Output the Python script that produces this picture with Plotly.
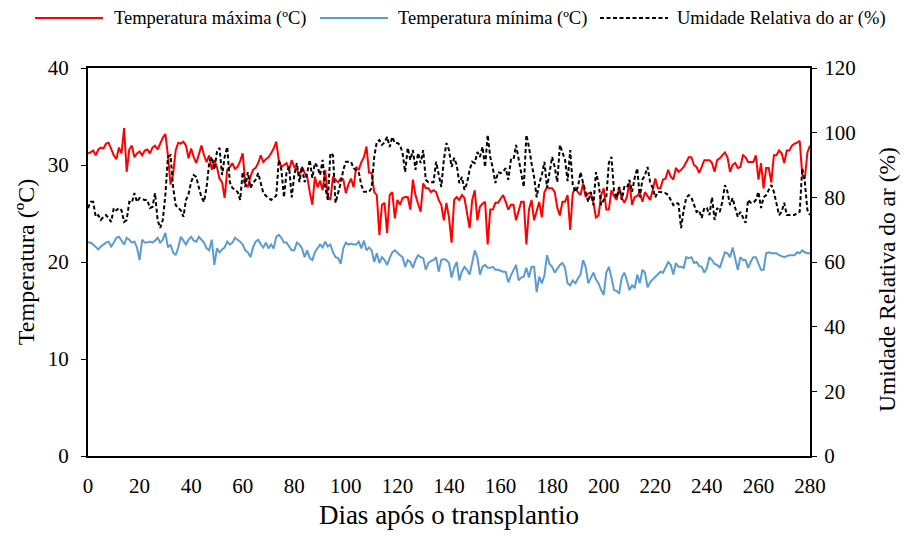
import plotly.graph_objects as go

days = list(range(0, 281))

tmax = [
    31.2, 31.3, 31.5, 31.0, 31.6, 31.8, 31.7, 32.2, 32.3, 31.6,
    31.0, 30.6, 31.8, 31.2, 33.8, 29.3, 31.6, 32.0, 30.8, 31.2,
    31.4, 31.0, 31.5, 31.6, 31.2, 31.8, 32.0, 31.6, 32.3, 32.8,
    33.2, 31.0, 28.0, 29.0, 31.5, 32.3, 32.2, 32.4, 32.0, 30.7,
    31.7, 30.8, 30.2, 31.0, 32.0, 31.0, 30.3, 31.0, 29.5, 30.5,
    29.8, 28.6, 28.2, 26.6, 29.5, 29.8, 30.2, 29.6, 29.8, 30.4,
    31.2, 28.1, 27.7, 28.8, 29.5, 29.7, 30.2, 31.0, 30.3, 30.6,
    30.8, 31.2, 31.7, 32.4, 30.5, 29.8, 30.0, 30.2, 29.5, 30.5,
    29.8, 29.5, 29.0, 29.8, 29.2, 28.8, 27.2, 25.9, 28.8, 27.7,
    28.4, 27.4, 29.5, 26.7, 26.4, 28.8, 28.5, 28.2, 28.6, 28.5,
    27.1, 28.0, 28.6, 27.7, 29.8, 29.5, 30.3, 30.8, 31.9, 29.2,
    29.2, 27.2, 26.9, 22.8, 25.9, 26.1, 23.0, 26.9, 27.2, 24.5,
    26.4, 25.9, 26.6, 26.7, 26.7, 25.4, 28.5, 26.9, 26.0, 25.2,
    28.1, 27.6, 27.6, 27.2, 27.4, 27.2, 26.4, 25.9, 24.3, 26.1,
    24.6, 22.0, 26.4, 26.7, 26.4, 26.9, 26.6, 25.0, 23.5, 26.4,
    27.4, 24.3, 25.7, 26.0, 26.2, 21.8, 25.4, 25.4, 26.1, 26.1,
    26.5, 26.9, 26.2, 25.4, 25.9, 25.9, 24.3, 25.4, 26.2, 26.2,
    21.8, 25.4, 26.4, 24.3, 25.2, 26.2, 24.6, 27.2, 27.7, 27.6,
    27.6, 27.2, 25.6, 24.8, 26.2, 26.2, 26.9, 23.3, 27.1, 27.6,
    27.2, 26.9, 28.1, 26.7, 27.1, 27.1, 26.1, 24.6, 24.8, 26.9,
    27.6, 25.4, 25.4, 27.4, 26.8, 26.4, 27.7, 26.6, 26.1, 26.7,
    28.2, 25.9, 26.7, 26.8, 27.2, 26.2, 27.2, 26.8, 26.4, 27.4,
    28.6, 27.6, 27.6, 28.5, 28.6, 29.5, 28.8, 28.5, 29.7, 29.3,
    29.5, 29.8, 30.3, 30.8, 30.8, 30.0, 29.8, 29.2, 29.8, 30.5,
    30.5, 30.5, 30.2, 29.3, 30.5, 30.7, 31.0, 31.3, 30.8, 29.3,
    30.0, 30.2, 29.7, 29.8, 31.0, 30.8, 30.3, 30.3, 30.3, 31.0,
    28.5, 30.2, 27.6, 29.7, 29.7, 28.2, 31.0, 31.0, 31.5, 31.2,
    30.2, 31.5, 31.5, 32.0, 32.2, 32.3, 32.5, 29.0, 28.6, 31.3, 32.0,
]

tmin = [
    22.0, 22.0, 21.8, 21.5, 21.3, 21.6, 21.8, 22.0, 22.1, 21.6,
    22.0, 22.5, 22.6, 22.2, 21.8, 22.5, 22.3, 22.0, 22.1, 21.5,
    20.2, 22.3, 22.0, 22.0, 22.1, 22.0, 22.2, 22.5, 22.0, 22.3,
    23.0, 21.5, 21.8, 21.0, 20.7, 21.5, 22.6, 22.2, 21.8, 22.3,
    22.6, 22.2, 22.1, 22.6, 22.3, 22.0, 21.4, 21.2, 22.3, 19.7,
    21.4, 21.0, 21.3, 21.5, 22.1, 21.8, 22.0, 22.5, 22.3, 22.1,
    21.8, 21.2, 21.0, 20.5, 21.5, 22.1, 22.3, 21.8, 21.5, 22.0,
    21.4, 21.8, 21.4, 22.6, 22.8, 22.5, 22.0, 22.0, 21.6, 21.2,
    21.2, 22.0, 21.8, 21.4, 20.5, 21.2, 20.4, 20.2, 21.0, 21.4,
    21.8, 21.5, 22.1, 21.6, 21.8, 21.0, 20.5, 20.4, 19.8, 21.4,
    22.0, 21.8, 21.9, 21.8, 21.8, 22.1, 21.4, 22.2, 21.2, 21.5,
    21.2, 20.0, 20.9, 19.9, 20.5, 20.2, 19.7, 20.4, 21.0, 21.2,
    20.9, 20.7, 20.5, 19.5, 20.2, 20.0, 19.4, 20.2, 20.7, 20.5,
    20.4, 19.2, 19.9, 20.1, 20.2, 20.5, 19.0, 20.2, 20.3, 20.2,
    19.9, 18.4, 19.4, 20.0, 18.1, 19.0, 19.5, 19.2, 18.7, 19.9,
    21.2, 20.5, 18.7, 19.5, 19.7, 19.4, 19.4, 19.5, 19.2, 19.2,
    19.1, 19.0, 19.0, 17.9, 18.6, 19.2, 19.7, 18.1, 18.4, 18.5,
    19.4, 18.4, 19.5, 19.5, 16.9, 18.5, 17.8, 18.6, 20.7, 19.8,
    19.5, 18.9, 19.3, 19.7, 19.9, 19.4, 17.8, 17.6, 18.1, 17.8,
    18.3, 18.7, 20.2, 19.5, 17.8, 18.4, 18.9, 18.2, 17.8, 17.1,
    16.6, 18.9, 19.5, 18.4, 17.1, 17.0, 16.8, 18.4, 18.9, 18.1,
    17.1, 17.6, 17.3, 18.7, 17.8, 19.2, 18.9, 17.4, 17.9, 18.2,
    18.5, 18.7, 19.0, 18.9, 19.4, 20.0, 19.7, 18.7, 19.9, 19.5,
    19.5, 19.4, 20.5, 20.4, 20.5, 19.9, 20.0, 19.6, 19.5, 18.9,
    19.4, 20.5, 20.2, 19.8, 19.7, 19.4, 20.2, 21.0, 20.9, 20.5,
    21.5, 20.5, 19.2, 20.5, 20.2, 20.2, 19.4, 20.0, 20.5, 20.5,
    19.9, 19.2, 19.2, 20.9, 21.0, 20.9, 20.9, 20.9, 20.7, 20.6,
    20.5, 20.6, 20.7, 20.7, 20.7, 21.0, 20.9, 21.2, 21.0, 20.9, 20.9,
]

rh = [
    76.7, 78.6, 78.6, 74.0, 74.5, 73.0, 74.0, 74.5, 73.5, 72.4,
    76.7, 76.0, 76.7, 76.0, 72.4, 73.0, 78.6, 78.3, 81.3, 78.6,
    79.8, 79.5, 79.2, 79.2, 76.7, 77.0, 81.3, 73.0, 70.5, 73.0,
    80.7, 92.5, 93.0, 83.2, 77.6, 76.7, 76.0, 74.0, 79.2, 81.0,
    84.7, 86.9, 86.3, 83.0, 80.0, 78.6, 83.2, 90.6, 92.5, 88.5,
    94.0, 95.3, 86.9, 92.5, 95.6, 84.7, 82.9, 82.3, 81.7, 79.2,
    87.8, 83.2, 87.8, 82.9, 84.4, 85.4, 87.5, 84.4, 81.3, 80.5,
    79.8, 79.2, 79.8, 80.5, 91.6, 88.5, 80.0, 87.8, 89.4, 80.0,
    86.9, 90.6, 84.7, 89.4, 84.7, 87.5, 91.6, 86.0, 90.6, 89.4,
    86.9, 91.6, 83.2, 79.2, 93.7, 93.0, 78.3, 81.3, 84.4, 88.5,
    91.0, 91.0, 91.0, 89.0, 88.5, 87.8, 83.8, 81.7, 81.7, 81.7,
    82.9, 92.5, 97.1, 97.7, 96.2, 97.0, 98.7, 95.6, 98.7, 96.8,
    96.8, 96.2, 93.7, 87.8, 95.3, 91.6, 94.6, 88.5, 93.7, 90.6,
    94.6, 85.4, 84.7, 84.7, 84.7, 91.0, 87.5, 83.2, 91.6, 96.8,
    94.6, 89.4, 92.2, 90.0, 84.4, 86.3, 82.3, 84.4, 88.5, 91.0,
    90.6, 94.0, 92.5, 95.6, 89.4, 99.3, 92.5, 89.0, 84.4, 87.8,
    87.5, 88.0, 89.0, 85.4, 91.6, 91.6, 96.2, 91.6, 87.5, 83.2,
    99.3, 95.6, 90.6, 86.3, 80.0, 84.4, 86.9, 91.0, 82.9, 88.5,
    92.5, 89.4, 84.7, 96.2, 93.7, 91.6, 85.0, 94.6, 83.8, 81.7,
    83.2, 87.8, 84.4, 81.3, 78.6, 81.7, 77.6, 87.8, 84.4, 77.6,
    79.2, 80.0, 90.6, 92.5, 82.0, 79.8, 83.2, 79.2, 83.2, 82.9,
    85.4, 81.7, 86.0, 89.0, 80.0, 85.4, 86.9, 89.4, 84.7, 82.9,
    80.0, 81.7, 81.7, 81.5, 81.3, 80.7, 79.2, 77.6, 78.3, 78.0,
    70.5, 76.0, 79.8, 80.7, 80.0, 77.6, 75.5, 76.0, 73.6, 76.7,
    76.7, 74.5, 80.0, 73.0, 76.7, 75.5, 78.6, 83.8, 81.7, 77.6,
    79.8, 76.7, 74.0, 75.5, 73.6, 72.1, 79.2, 78.3, 78.3, 79.2,
    81.7, 76.7, 80.0, 80.7, 82.3, 83.8, 81.7, 77.6, 74.5, 75.5,
    78.3, 74.5, 74.5, 74.5, 74.5, 75.2, 75.5, 89.0, 84.7, 76.0, 74.5,
]

x_ticks = [0, 20, 40, 60, 80, 100, 120, 140, 160, 180, 200, 220, 240, 260, 280]
y_ticks = [0, 10, 20, 30, 40]
y2_ticks = [0, 20, 40, 60, 80, 100, 120]

series_names = ["Temperatura máxima (ºC)", "Temperatura mínima (ºC)", "Umidade Relativa do ar (%)"]
series_colors = ["#FF0000", "#5B9BD5", "#000000"]
series_dash = ["solid", "solid", "4px,2.5px"]

FONT = "Liberation Serif"

def f(size):
    return dict(family=FONT, size=size, color="black")

fig = go.Figure()
fig.add_trace(go.Scatter(x=days, y=tmax, mode="lines", name=series_names[0],
                         line=dict(color=series_colors[0], width=2)))
fig.add_trace(go.Scatter(x=days, y=tmin, mode="lines", name=series_names[1],
                         line=dict(color=series_colors[1], width=2)))
fig.add_trace(go.Scatter(x=days, y=rh, mode="lines", name=series_names[2],
                         yaxis="y2", line=dict(color=series_colors[2], width=2, dash=series_dash[2])))

# Custom legend (top, single row) in paper coordinates
L, R, T, B = 88, 94, 68, 83
PW, PH = 904 - L - R, 539 - T - B
def px_x(p):
    return (p - L) / PW
def px_y(p):
    return (539 - B - p) / PH

legend_line_x = [(35, 103), (320, 388), (600, 668)]
legend_text_x = [112, 396, 675]
legend_y = 18
shapes = []
annotations = []
for i in range(3):
    x0, x1 = legend_line_x[i]
    shapes.append(dict(type="line", xref="paper", yref="paper",
                       x0=px_x(x0), x1=px_x(x1), y0=px_y(legend_y), y1=px_y(legend_y),
                       line=dict(color=series_colors[i], width=2, dash=series_dash[i])))
    annotations.append(dict(xref="paper", yref="paper", x=px_x(legend_text_x[i]), y=px_y(legend_y),
                            xanchor="left", yanchor="middle", showarrow=False,
                            text=series_names[i], font=f(18.5)))

# right axis title as a rotated annotation
annotations.append(dict(xref="paper", yref="paper", x=px_x(887), y=px_y(280),
                        xanchor="center", yanchor="middle", showarrow=False, textangle=-90,
                        text="Umidade Relativa do ar (%)", font=f(23.5)))

fig.update_layout(
    width=904, height=539,
    margin=dict(l=L, r=R, t=T, b=B),
    paper_bgcolor="white", plot_bgcolor="white",
    font=f(21),
    showlegend=False,
    shapes=shapes,
    annotations=annotations,
    xaxis=dict(range=[0, 280], tickvals=x_ticks, ticktext=[str(v) for v in x_ticks],
               showgrid=False, zeroline=False, showline=True, linecolor="black", linewidth=2,
               mirror=True, ticks="", tickfont=f(21), ticklabelstandoff=10,
               title=dict(text="Dias após o transplantio", font=f(27), standoff=8)),
    yaxis=dict(range=[0, 40], tickvals=y_ticks, showgrid=False, zeroline=False,
               showline=True, linecolor="black", linewidth=2, mirror=True,
               ticks="outside", ticklen=5, tickcolor="black", tickfont=f(21),
               ticklabelstandoff=8,
               title=dict(text="Temperatura (ºC)", font=f(24), standoff=6)),
    yaxis2=dict(range=[0, 120], tickvals=y2_ticks, overlaying="y", side="right",
                showgrid=False, zeroline=False, showline=True, linecolor="black", linewidth=2,
                ticks="outside", ticklen=5, tickcolor="black", tickfont=f(21),
                ticklabelstandoff=3),
)

fig.write_html("out.html")
